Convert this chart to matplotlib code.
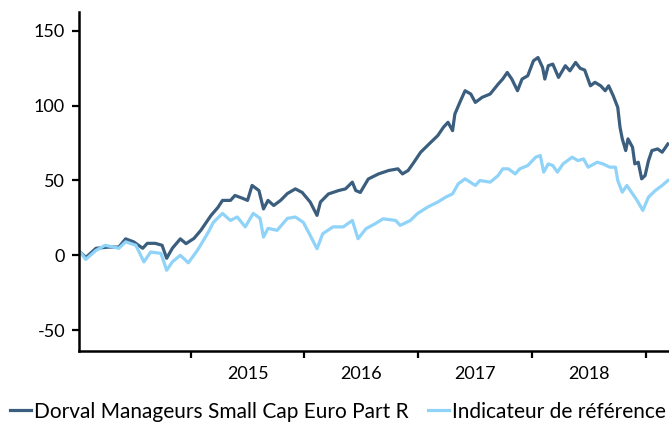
import numpy as np
import matplotlib
matplotlib.use('Agg')
from matplotlib import pyplot as plt

# x positions are decimal years
fund_x = [2014.03, 2014.08, 2014.17, 2014.28, 2014.37, 2014.43, 2014.50, 2014.58, 2014.62, 2014.69,
          2014.75, 2014.79, 2014.84, 2014.91, 2014.96, 2015.03, 2015.09, 2015.18, 2015.24, 2015.28,
          2015.35, 2015.39, 2015.46, 2015.50, 2015.54, 2015.60, 2015.64, 2015.68, 2015.73, 2015.79,
          2015.85, 2015.92, 2015.98, 2016.05, 2016.11, 2016.14, 2016.21, 2016.30, 2016.36, 2016.42,
          2016.45, 2016.49, 2016.56, 2016.65, 2016.74, 2016.82, 2016.86, 2016.91, 2016.95, 2017.02,
          2017.11, 2017.17, 2017.22, 2017.26, 2017.30, 2017.32, 2017.37, 2017.41, 2017.46, 2017.50,
          2017.56, 2017.63, 2017.70, 2017.74, 2017.78, 2017.82, 2017.87, 2017.91, 2017.96, 2018.01,
          2018.05, 2018.09, 2018.11, 2018.14, 2018.18, 2018.23, 2018.29, 2018.33, 2018.38, 2018.42,
          2018.46, 2018.51, 2018.55, 2018.60, 2018.64, 2018.67, 2018.71, 2018.75, 2018.77, 2018.79,
          2018.82, 2018.84, 2018.88, 2018.90, 2018.93, 2018.96, 2018.99, 2019.02, 2019.05, 2019.10,
          2019.14, 2019.19]
fund_y = [2.2, -1.5, 4.7, 5.5, 5.5, 11.0, 9.0, 4.7, 8.0, 8.0,
          6.7, -2.0, 4.7, 11.0, 7.8, 11.3, 16.7, 26.7, 32.0, 36.7,
          36.7, 40.0, 38.0, 36.7, 46.7, 43.3, 31.0, 36.7, 33.3, 36.7,
          41.3, 44.4, 42.0, 35.6, 26.7, 35.6, 41.0, 43.3, 44.4, 48.9,
          43.3, 42.0, 51.0, 54.4, 56.7, 57.8, 54.4, 56.7, 61.0, 68.9,
          75.6, 80.0, 85.6, 88.9, 83.3, 94.4, 103.3, 110.0, 107.8, 102.2,
          105.6, 107.8, 114.4, 117.8, 122.2, 117.8, 110.0, 117.8, 120.0, 130.0,
          132.2, 125.6, 117.8, 126.7, 127.8, 118.9, 126.7, 123.3, 128.9, 125.0,
          123.8, 113.3, 115.6, 113.3, 110.0, 113.3, 106.7, 98.9, 85.6, 77.8,
          70.0, 77.8, 72.2, 61.1, 62.2, 51.1, 53.3, 63.3, 70.0, 71.1,
          68.9, 74.4]

bench_x = [2014.03, 2014.08, 2014.17, 2014.25, 2014.37, 2014.43, 2014.52, 2014.59, 2014.65, 2014.74,
           2014.79, 2014.84, 2014.91, 2014.98, 2015.06, 2015.15, 2015.20, 2015.28, 2015.35, 2015.41,
           2015.48, 2015.55, 2015.61, 2015.64, 2015.68, 2015.76, 2015.85, 2015.92, 2015.99, 2016.05,
           2016.11, 2016.16, 2016.25, 2016.34, 2016.42, 2016.47, 2016.54, 2016.62, 2016.69, 2016.80,
           2016.84, 2016.93, 2016.99, 2017.08, 2017.17, 2017.24, 2017.30, 2017.35, 2017.41, 2017.50,
           2017.54, 2017.63, 2017.70, 2017.74, 2017.79, 2017.85, 2017.89, 2017.96, 2018.03, 2018.07,
           2018.10, 2018.14, 2018.18, 2018.22, 2018.27, 2018.35, 2018.40, 2018.45, 2018.49, 2018.57,
           2018.62, 2018.68, 2018.73, 2018.75, 2018.79, 2018.83, 2018.88, 2018.92, 2018.97, 2019.02,
           2019.08, 2019.14, 2019.19]
bench_y = [2.2, -2.7, 3.3, 6.7, 4.7, 9.0, 6.7, -4.4, 2.2, 1.3,
           -10.0, -4.4, 0.0, -5.0, 3.3, 14.7, 22.0, 28.0, 23.3, 25.6,
           19.0, 28.0, 24.7, 12.2, 18.0, 16.7, 24.7, 25.6, 22.0, 13.3,
           4.4, 14.4, 19.0, 19.0, 23.3, 11.1, 17.8, 21.1, 24.4, 23.3,
           20.0, 23.3, 27.8, 32.2, 35.6, 38.9, 41.1, 47.8, 51.1, 46.7,
           50.0, 48.9, 53.3, 57.8, 57.8, 54.4, 57.8, 60.0, 65.6, 66.7,
           55.6, 61.1, 60.0, 55.6, 61.1, 65.6, 63.3, 64.4, 58.9, 62.2,
           61.1, 58.9, 58.9, 50.0, 42.2, 46.7, 41.1, 36.7, 30.0, 38.9,
           43.3, 46.7, 50.0]

years = [2015, 2016, 2017, 2018]
yticks = [-50, 0, 50, 100, 150]

fund_name = 'Dorval Manageurs Small Cap Euro Part R'
bench_name = 'Indicateur de référence'

plt.rcParams['font.family'] = ['Lato', 'DejaVu Sans']

fig = plt.figure(figsize=(6.69, 4.24), dpi=100)
ax = fig.add_axes([0.118, 0.172, 0.882, 0.80])

ax.plot(fund_x, fund_y, color='#3b5e7e', lw=2.3, label=fund_name)
ax.plot(bench_x, bench_y, color='#8fd3f8', lw=2.3, label=bench_name)

ax.set_xlim(2014.02, 2019.2)
ax.set_ylim(-64, 162.7)

ax.set_yticks(yticks)
ax.set_yticklabels([str(v) for v in yticks])

# year boundaries as ticks, year names centred between them
ax.set_xticks([2015, 2016, 2017, 2018, 2019])
ax.set_xticklabels([])
ax.set_xticks([y + 0.5 for y in years], minor=True)
ax.set_xticklabels([str(y) for y in years], minor=True)

ax.tick_params(axis='both', which='major', direction='out', length=5, width=1.6,
               labelsize=13, color='black')
ax.tick_params(axis='x', which='minor', length=0, pad=11, labelsize=13)
ax.tick_params(axis='y', pad=5)

for s in ['top', 'right']:
    ax.spines[s].set_visible(False)
for s in ['left', 'bottom']:
    ax.spines[s].set_linewidth(1.8)
    ax.spines[s].set_color('black')

ax.legend(loc='lower left', bbox_to_anchor=(-0.117, -0.208), ncol=2, frameon=False,
          fontsize=15, handlelength=1.0, handletextpad=0.15, columnspacing=0.95,
          borderaxespad=0, borderpad=0)

fig.savefig('out.png', dpi=100)
